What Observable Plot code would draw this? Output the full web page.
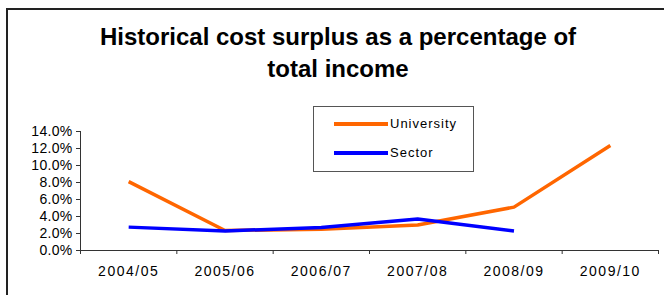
<!DOCTYPE html>
<html>
<head>
<meta charset="utf-8">
<script src="https://cdn.jsdelivr.net/npm/d3@7"></script>
<script src="https://cdn.jsdelivr.net/npm/@observablehq/plot@0.6"></script>
<style>
  html, body { margin: 0; padding: 0; background: #fff; overflow: hidden; }
  body { width: 664px; height: 295px; position: relative; font-family: "Liberation Sans", Arial, sans-serif; }
  #frame { position: absolute; left: 6px; top: 8px; width: 720px; height: 320px; border-top: 2px solid #222; border-left: 2px solid #222; }
  #title { position: absolute; left: 0; width: 676px; top: 21px; text-align: center; font-weight: bold; font-size: 24px; line-height: 32px; color: #000; }
  #chart { position: absolute; left: 0; top: 0; }
  #legend { position: absolute; left: 313px; top: 106px; width: 159px; height: 64px; border: 1px solid #555; background: #fff; font-size: 13px; letter-spacing: 1px; }
  .item { position: absolute; left: 20px; display: flex; align-items: center; }
  .sw { width: 54px; height: 4px; margin-right: 2px; }
</style>
</head>
<body>
<div id="frame"></div>
<div id="chart"></div>
<div id="title">Historical cost surplus as a percentage of<br>total income</div>
<div id="legend"></div>
<script>
const years = ["2004/05", "2005/06", "2006/07", "2007/08", "2008/09", "2009/10"];
const university = [8.1, 2.35, 2.5, 3.0, 5.1, 12.35];
const sector = [2.75, 2.3, 2.7, 3.7, 2.3, null];
const seriesNames = ["University", "Sector"];
const seriesColors = ["#FF6600", "#0000FF"];
const yTicks = [0, 2, 4, 6, 8, 10, 12, 14];

const rows = [];
years.forEach((yr, i) => {
  rows.push({series: "University", idx: i + 0.5, value: university[i]});
  if (sector[i] != null) rows.push({series: "Sector", idx: i + 0.5, value: sector[i]});
});
const boundaries = d3.range(0, years.length + 1);
const centers = years.map((_, i) => i + 0.5);

const plot = Plot.plot({
  width: 664,
  height: 295,
  marginLeft: 80,
  marginRight: 6,
  marginTop: 131,
  marginBottom: 45,
  style: {fontFamily: '"Liberation Sans", Arial, sans-serif', fontSize: "14px", color: "#000", background: "transparent"},
  x: {type: "linear", domain: [0, years.length]},
  y: {domain: [0, 14]},
  color: {domain: seriesNames, range: seriesColors},
  marks: [
    Plot.ruleY([0], {stroke: "#333", strokeWidth: 1}),
    Plot.ruleX([0], {stroke: "#333", strokeWidth: 1}),
    Plot.axisX(boundaries, {tickSize: 4, tickFormat: () => "", stroke: "#333", label: null}),
    Plot.axisX(centers, {tickSize: 0, tickPadding: 16, tickFormat: d => years[Math.floor(d)], label: null, fontSize: 14}),
    Plot.axisY(yTicks, {tickSize: 4, tickPadding: 4, tickFormat: d => d.toFixed(1) + "%", stroke: "#333", label: null, fontSize: 14}),
    Plot.line(rows, {x: "idx", y: "value", z: "series", stroke: "series", strokeWidth: 3.5, strokeLinejoin: "miter", strokeLinecap: "butt"})
  ]
});
d3.select(plot).selectAll('g[aria-label="x-axis tick label"] text').style("letter-spacing", "1.5px");
d3.select(plot).selectAll('g[aria-label="y-axis tick label"] text').style("letter-spacing", "0.3px");
document.getElementById("chart").appendChild(plot);

const legend = document.getElementById("legend");
seriesNames.forEach((name, i) => {
  const item = document.createElement("div");
  item.className = "item";
  item.style.top = (i === 0 ? 9 : 38) + "px";
  const sw = document.createElement("span");
  sw.className = "sw";
  sw.style.background = seriesColors[i];
  const label = document.createElement("span");
  label.textContent = name;
  item.appendChild(sw);
  item.appendChild(label);
  legend.appendChild(item);
});
</script>
</body>
</html>
